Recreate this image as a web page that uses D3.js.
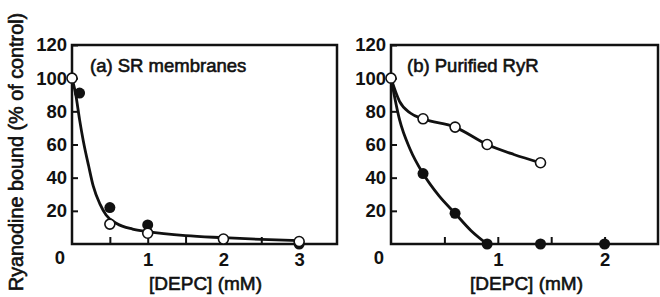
<!DOCTYPE html>
<html>
<head>
<meta charset="utf-8">
<script src="https://cdn.jsdelivr.net/npm/d3@7"></script>
<style>
  body { margin: 0; background: #fff; }
  text { font-family: "Liberation Sans", Arial, Helvetica, sans-serif; fill: #111; }
  .heavy { stroke: #111; stroke-width: 0.6px; }
</style>
</head>
<body>
<div id="chart"></div>
<script>
// ---- data ----
// panel (a) SR membranes
const aOpenX = [0, 0.5, 1, 2, 3];
const aOpenY = [100, 12, 6.5, 3, 1.5];
const aFilledX = [0.1, 0.5, 1, 3];
const aFilledY = [91, 22, 11.5, 0];
// fitted curve drawn through the points
const aCurveX = [0, 0.05, 0.1, 0.15, 0.22, 0.28, 0.37, 0.45, 0.59, 0.8, 1, 1.5, 2, 2.5, 3];
const aCurveY = [100, 90, 75, 62, 47, 35, 24, 17.5, 12.4, 9, 7.4, 5, 3.8, 2.8, 2];

// panel (b) Purified RyR
const bOpenX = [0, 0.3, 0.6, 0.9, 1.4];
const bOpenY = [100, 75.5, 70.5, 60, 49];
const bFilledX = [0.3, 0.6, 0.9, 1.4, 2];
const bFilledY = [42.5, 18.5, 0, 0, 0];
const bOpenLineX = [0, 0.08, 0.18, 0.3, 0.6, 0.9, 1.15, 1.4];
const bOpenLineY = [100, 86, 79, 75.5, 70.5, 60, 54, 49];
const bFilledLineX = [0, 0.08, 0.18, 0.3, 0.45, 0.6, 0.75, 0.9];
const bFilledLineY = [100, 75, 57, 42.5, 29, 18.5, 8, 0];

const yTicks = [20, 40, 60, 80, 100, 120];
const aXTicks = [0.5, 1, 1.5, 2, 2.5, 3];
const bXTicks = [0.5, 1, 1.5, 2];

const zip = (xs, ys) => xs.map((x, i) => [x, ys[i]]);

const width = 660, height = 297;
const svg = d3.select("#chart").append("svg")
    .attr("width", width)
    .attr("height", height);

// shared y label
svg.append("text")
    .attr("class", "heavy")
    .attr("transform", "translate(23,152) rotate(-90)")
    .attr("text-anchor", "middle")
    .attr("font-size", "19.8px")
    .text("Ryanodine bound (% of control)");

function panel(opt) {
  const x = d3.scaleLinear().domain(opt.xDomain).range(opt.xRange);
  const y = d3.scaleLinear().domain([0, 120]).range([244, 45]);
  const g = svg.append("g");

  // frame
  g.append("rect")
      .attr("x", x.range()[0]).attr("y", y(120))
      .attr("width", x.range()[1] - x.range()[0])
      .attr("height", y(0) - y(120))
      .attr("fill", "none").attr("stroke", "#111").attr("stroke-width", 2.5);

  // y axis, inward ticks
  const yAxis = g.append("g")
      .attr("transform", `translate(${x.range()[0]},0)`)
      .call(d3.axisLeft(y).tickValues(yTicks).tickSize(-6).tickPadding(5));
  // x axis, inward ticks, labels on integers only
  const xAxis = g.append("g")
      .attr("transform", `translate(0,${y(0)})`)
      .call(d3.axisBottom(x).tickValues(opt.xTicks).tickSize(-7).tickPadding(6)
        .tickFormat(d => Number.isInteger(d) ? d : ""));
  [yAxis, xAxis].forEach(a => {
    a.select(".domain").remove();
    a.selectAll(".tick line").attr("stroke", "#111").attr("stroke-width", 2);
    a.selectAll(".tick text")
        .attr("font-size", "18.5px").attr("font-weight", "bold").attr("fill", "#111")
        .attr("font-family", "'Liberation Sans', Arial, sans-serif");
  });
  xAxis.selectAll(".tick text").attr("dy", "0.85em");

  // the shared "0" at the corner
  g.append("text")
      .attr("x", x(0) - 12).attr("y", y(0) + 20)
      .attr("text-anchor", "middle")
      .attr("font-size", "18.5px").attr("font-weight", "bold")
      .text("0");

  // x label
  g.append("text")
      .attr("class", "heavy")
      .attr("x", (x.range()[0] + x.range()[1]) / 2 + opt.xLabelShift)
      .attr("y", 290)
      .attr("text-anchor", "middle")
      .attr("font-size", "19px")
      .text("[DEPC] (mM)");

  // panel title
  g.append("text")
      .attr("class", "heavy")
      .attr("x", x.range()[0] + opt.titleDx)
      .attr("y", 72)
      .attr("font-size", "18.5px")
      .text(opt.title);

  const line = d3.line().x(d => x(d[0])).y(d => y(d[1])).curve(d3.curveMonotoneX);
  opt.lines.forEach(l => {
    g.append("path")
        .attr("d", line(l))
        .attr("fill", "none").attr("stroke", "#111").attr("stroke-width", 2.8);
  });

  g.selectAll("circle.filled")
    .data(opt.filled)
    .join("circle")
      .attr("class", "filled")
      .attr("cx", d => x(d[0])).attr("cy", d => y(d[1]))
      .attr("r", 5.5).attr("fill", "#111");

  g.selectAll("circle.open")
    .data(opt.open)
    .join("circle")
      .attr("class", "open")
      .attr("cx", d => x(d[0])).attr("cy", d => y(d[1]))
      .attr("r", 5).attr("fill", "#fff")
      .attr("stroke", "#111").attr("stroke-width", 1.6);
}

panel({
  xDomain: [0, 3.5], xRange: [72, 337], xTicks: aXTicks,
  title: "(a) SR membranes", titleDx: 18, xLabelShift: 1,
  lines: [zip(aCurveX, aCurveY)],
  filled: zip(aFilledX, aFilledY),
  open: zip(aOpenX, aOpenY)
});

panel({
  xDomain: [0, 2.5], xRange: [391, 658], xTicks: bXTicks,
  title: "(b) Purified RyR", titleDx: 16, xLabelShift: 2,
  lines: [zip(bOpenLineX, bOpenLineY), zip(bFilledLineX, bFilledLineY)],
  filled: zip(bFilledX, bFilledY),
  open: zip(bOpenX, bOpenY)
});
</script>
</body>
</html>
